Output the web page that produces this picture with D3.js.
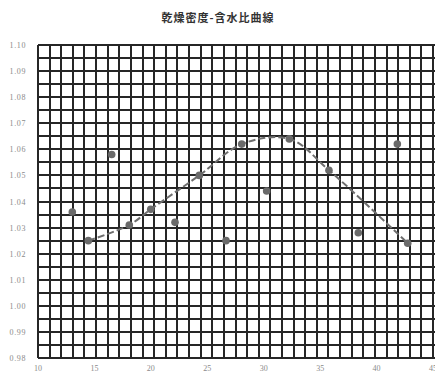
<!DOCTYPE html>
<html>
<head>
<meta charset="utf-8">
<script src="https://cdn.jsdelivr.net/npm/d3@7"></script>
<style>
  html, body { margin: 0; padding: 0; background: #fff; }
  svg { display: block; }
</style>
</head>
<body>
<svg id="chart" width="435" height="374"></svg>
<script>
// 含水比 (%) と乾燥密度 (g/cm³) の測定値
const moisture = [13.04, 14.46, 16.53, 18.09, 19.99, 22.14, 24.29, 26.66, 28.05, 30.26, 32.27, 35.78, 38.38, 41.84, 42.76];
const density  = [1.036, 1.025, 1.058, 1.031, 1.037, 1.032, 1.050, 1.025, 1.062, 1.044, 1.064, 1.052, 1.028, 1.062, 1.024];

// 曲線を描く測定点 (上の配列の番号)
const curveIdx = [1, 3, 4, 6, 8, 10, 11, 14];

// 軸の目盛り
const xTicks = [10, 15, 20, 25, 30, 35, 40, 45];
const yTicks = [0.98, 0.99, 1.00, 1.01, 1.02, 1.03, 1.04, 1.05, 1.06, 1.07, 1.08, 1.09, 1.10];

const title = "乾燥密度-含水比曲線";

const svg = d3.select("#chart");
const plotL = 38, plotR = 433, plotT = 45, plotB = 358;

const x = d3.scaleLinear().domain([10, 45]).range([plotL, plotR]);
const y = d3.scaleLinear().domain([0.98, 1.10]).range([plotB, plotT]);

// 方眼: 横 34 区画, 縦 24 区画
const gx = d3.scaleLinear().domain([0, 34]).range([plotL, plotR]);
const gy = d3.scaleLinear().domain([0, 24]).range([plotT, plotB]);

const grid = svg.append("g")
  .attr("stroke", "#262626")
  .attr("stroke-width", 2)
  .attr("shape-rendering", "crispEdges");

grid.selectAll("line.v").data(d3.range(0, 35)).join("line")
  .attr("class", "v")
  .attr("x1", d => gx(d)).attr("x2", d => gx(d))
  .attr("y1", plotT).attr("y2", plotB);

grid.selectAll("line.h").data(d3.range(0, 25)).join("line")
  .attr("class", "h")
  .attr("x1", plotL).attr("x2", plotR + 2)
  .attr("y1", d => gy(d)).attr("y2", d => gy(d));

// タイトル
svg.append("text")
  .attr("x", 218).attr("y", 22)
  .attr("text-anchor", "middle")
  .attr("font-family", "'Noto Sans CJK JP', sans-serif")
  .attr("font-size", 11)
  .attr("font-weight", "bold")
  .attr("letter-spacing", 1)
  .attr("fill", "#333")
  .text(title);

// Y 軸の目盛りラベル
svg.append("g").selectAll("text").data(yTicks).join("text")
  .attr("x", 26).attr("y", d => y(d) + 3)
  .attr("text-anchor", "end")
  .attr("font-family", "'Liberation Serif', serif")
  .attr("font-size", 8)
  .attr("letter-spacing", 0.6)
  .attr("fill", "#8a8a8a")
  .text(d => d3.format(".2f")(d));

// X 軸の目盛りラベル
svg.append("g").selectAll("text").data(xTicks).join("text")
  .attr("x", d => x(d)).attr("y", 371)
  .attr("text-anchor", "middle")
  .attr("font-family", "'Liberation Serif', serif")
  .attr("font-size", 8)
  .attr("fill", "#8a8a8a")
  .text(d => d);

// 近似曲線 (破線)
const curvePts = curveIdx.map(i => [moisture[i], density[i]]);
const line = d3.line()
  .x(d => x(d[0])).y(d => y(d[1]))
  .curve(d3.curveCatmullRom.alpha(0.5));

svg.append("path")
  .datum(curvePts)
  .attr("d", line)
  .attr("fill", "none")
  .attr("stroke", "#6e6e6e")
  .attr("stroke-width", 2)
  .attr("stroke-dasharray", "7,3");

// 測定点
svg.append("g").selectAll("circle").data(moisture.map((m, i) => [m, density[i]])).join("circle")
  .attr("cx", d => x(d[0]))
  .attr("cy", d => y(d[1]))
  .attr("r", 3.8)
  .attr("fill", "#6a6a6a");
</script>
</body>
</html>
